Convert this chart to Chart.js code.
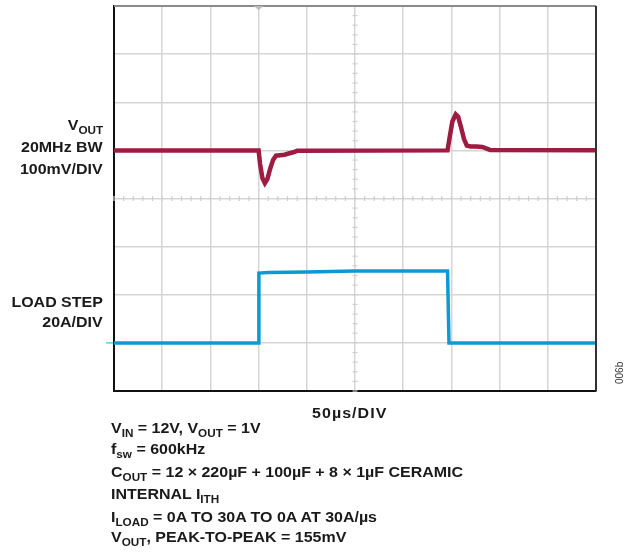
<!DOCTYPE html>
<html><head><meta charset="utf-8">
<script src="https://cdn.jsdelivr.net/npm/chart.js@4"></script>
<style>
html,body{margin:0;padding:0;background:#fff;}
#wrap{position:relative;width:630px;height:554px;font-family:"Liberation Sans",Arial,sans-serif;font-weight:bold;color:#1a1a1a;overflow:hidden;}
canvas{position:absolute;left:0;top:0;}
.lbl{position:absolute;font-size:15px;line-height:17px;white-space:nowrap;transform:scaleX(1.065);transform-origin:left top;}
.r{text-align:right;right:527px;transform-origin:right top;}
.s{font-size:11px;position:relative;top:4px;}
.code{position:absolute;left:614px;top:384px;font-size:10px;font-weight:normal;color:#333;transform:rotate(-90deg);transform-origin:left top;white-space:nowrap;}
</style></head>
<body>
<div id="wrap">
<canvas id="c" width="630" height="554"></canvas>
<div class="lbl r" style="top:116px">V<span class="s">OUT</span></div>
<div class="lbl r" style="top:138px">20MHz BW</div>
<div class="lbl r" style="top:160px">100mV/DIV</div>
<div class="lbl r" style="top:293px">LOAD STEP</div>
<div class="lbl r" style="top:313px">20A/DIV</div>
<div class="lbl" style="top:404px;left:312px;letter-spacing:1px">50µs/DIV</div>
<div class="lbl" style="top:419px;left:111px">V<span class="s">IN</span> = 12V, V<span class="s">OUT</span> = 1V</div>
<div class="lbl" style="top:440px;left:111px">f<span class="s">sw</span> = 600kHz</div>
<div class="lbl" style="top:463px;left:111px">C<span class="s">OUT</span> = 12 × 220µF + 100µF + 8 × 1µF CERAMIC</div>
<div class="lbl" style="top:485px;left:111px">INTERNAL I<span class="s">ITH</span></div>
<div class="lbl" style="top:508px;left:111px">I<span class="s">LOAD</span> = 0A TO 30A TO 0A AT 30A/µs</div>
<div class="lbl" style="top:528px;left:111px">V<span class="s">OUT</span>, PEAK-TO-PEAK = 155mV</div>
<div class="code">006b</div>
</div>
<script>
// VOUT trace (AC coupled, mV) vs time (µs)
const voutTimeUs = [0, 150, 151.5, 154, 156.5, 159, 162, 165, 168, 172, 177, 182, 186, 190, 346, 348, 351, 354.5, 357, 360, 363, 366, 370, 376, 382, 386, 390, 500];
const voutMv     = [0, 0,   -28,   -58, -68,   -60, -38, -20, -11, -10, -9,  -6,  -4,  -1,  0,   25,  60,  75,    70,  48,  24,  10,  8,   8,   7,   4,   1,   0];
// Load step trace (A) vs time (µs)
const loadTimeUs = [0, 149.5, 150.3, 160, 200, 250, 300, 346, 347.5, 500];
const loadA      = [0, 0,     29,    29.2, 29.5, 29.9, 29.9, 29.9, 0,   0];
// Scope graticule: 10 horizontal divisions of 50µs, 8 vertical divisions
const timeDivUs = 50;
const voutDivMv = 100;
const loadDivA = 20;

const RED = '#9E1B42', BLUE = '#0C9AD3', GRID = '#d6d6d6';

const toXY = (xs, ys) => xs.map((x, i) => ({x, y: ys[i]}));

const scopePlugin = {
  id: 'scope',
  beforeDatasetsDraw(chart) {
    const {ctx, scales} = chart;
    ctx.save();
    ctx.strokeStyle = '#cfcfcf';
    ctx.lineWidth = 1.2;
    const yc = scales.y.getPixelForValue(-100);
    const xc = scales.x.getPixelForValue(250);
    for (let t = 0; t <= 500; t += timeDivUs / 5) {
      const px = scales.x.getPixelForValue(t);
      ctx.beginPath(); ctx.moveTo(px, yc - 2.5); ctx.lineTo(px, yc + 2.5); ctx.stroke();
    }
    for (let v = -500; v <= 300; v += voutDivMv / 5) {
      const py = scales.y.getPixelForValue(v);
      ctx.beginPath(); ctx.moveTo(xc - 2.5, py); ctx.lineTo(xc + 2.5, py); ctx.stroke();
    }
    ctx.restore();
  },
  afterDraw(chart) {
    const {ctx, chartArea: a, scales} = chart;
    ctx.save();
    ctx.strokeStyle = '#8a8a8a'; ctx.lineWidth = 2;
    ctx.beginPath(); ctx.moveTo(a.left, a.top); ctx.lineTo(a.right, a.top); ctx.stroke();
    ctx.strokeStyle = '#333'; ctx.lineWidth = 2;
    ctx.beginPath(); ctx.moveTo(a.right, a.top); ctx.lineTo(a.right, a.bottom); ctx.stroke();
    const tx = scales.x.getPixelForValue(150);
    ctx.fillStyle = '#bdbdbd';
    ctx.beginPath(); ctx.moveTo(tx - 5, a.top); ctx.lineTo(tx + 5, a.top); ctx.lineTo(tx, a.top + 4); ctx.closePath(); ctx.fill();
    const gy = scales.y2.getPixelForValue(0);
    ctx.strokeStyle = '#6cc3e8'; ctx.lineWidth = 1.5;
    ctx.beginPath(); ctx.moveTo(a.left - 8, gy); ctx.lineTo(a.left - 1, gy); ctx.stroke();
    ctx.restore();
  }
};

new Chart(document.getElementById('c'), {
  type: 'line',
  data: {
    datasets: [
      {data: toXY(voutTimeUs, voutMv), borderColor: RED, borderWidth: 4.5, yAxisID: 'y', pointRadius: 0, tension: 0},
      {data: toXY(loadTimeUs, loadA), borderColor: BLUE, borderWidth: 3.5, yAxisID: 'y2', pointRadius: 0, tension: 0}
    ]
  },
  options: {
    responsive: false,
    animation: false,
    layout: {padding: {left: 114, right: 34, top: 6, bottom: 163}},
    plugins: {legend: {display: false}, tooltip: {enabled: false}},
    scales: {
      x: {type: 'linear', min: 0, max: 500,
          ticks: {display: false, stepSize: timeDivUs},
          grid: {color: GRID, lineWidth: 1.5, drawTicks: false},
          border: {display: true, color: '#111', width: 2}},
      y: {type: 'linear', min: -500, max: 300,
          ticks: {display: false, stepSize: voutDivMv},
          grid: {color: GRID, lineWidth: 1.5, drawTicks: false},
          border: {display: true, color: '#111', width: 2}},
      y2: {type: 'linear', display: false, min: -20, max: 140, ticks: {stepSize: loadDivA}}
    }
  },
  plugins: [scopePlugin]
});
</script>
</body></html>
